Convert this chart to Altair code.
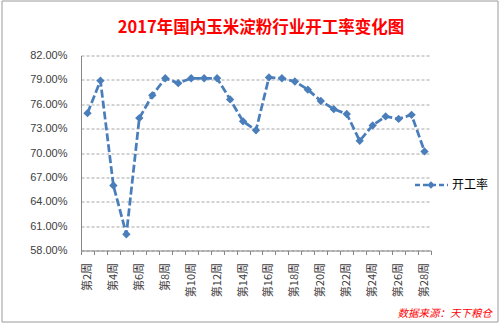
import altair as alt
import pandas as pd

weeks = list(range(2, 29))
rates = [74.9, 78.9, 66.0, 60.0, 74.3, 77.1, 79.2, 78.6, 79.2, 79.2,
         79.2, 76.6, 73.9, 72.8, 79.3, 79.2, 78.8, 77.8, 76.4, 75.4,
         74.8, 71.5, 73.4, 74.5, 74.2, 74.7, 70.2]
y_ticks = [58, 61, 64, 67, 70, 73, 76, 79, 82]
title_text = "2017年国内玉米淀粉行业开工率变化图"
series_name = "开工率"
source_text = "数据来源：天下粮仓"

df = pd.DataFrame({"week": weeks, "rate": rates})

boundaries = [w - 0.5 for w in weeks] + [weeks[-1] + 0.5]
label_vals = [w for w in weeks if w % 2 == 0]
x_values = sorted(boundaries + label_vals)

BLUE = "#4A7EBB"
W, H = 350, 195

x_enc = alt.X(
    "week:Q",
    scale=alt.Scale(domain=[weeks[0] - 0.5, weeks[-1] + 0.5], nice=False, zero=False),
    axis=alt.Axis(
        title=None, values=x_values, tickCount=len(x_values), grid=False,
        labelExpr="datum.value % 2 == 0 ? '第' + datum.value + '周' : ''",
        labelAngle=270, labelFont="Noto Sans CJK SC", labelFontSize=11,
        labelColor="#404040", labelPadding=8, labelOverlap=False, labelFlush=False,
        domainColor="#868686", tickColor="#868686", tickSize=4,
        tickOpacity={"condition": {"test": "datum.value % 1 == 0", "value": 0}, "value": 1},
    ),
)
y_enc = alt.Y(
    "rate:Q",
    scale=alt.Scale(domain=[y_ticks[0], y_ticks[-1]], nice=False, zero=False),
    axis=alt.Axis(
        title=None, values=y_ticks, tickCount=len(y_ticks),
        labelExpr="format(datum.value, '.2f') + '%'",
        labelFont="Liberation Sans", labelFontSize=11, labelColor="#404040",
        labelPadding=14, ticks=False, domainColor="#868686", labelOverlap=False,
        grid=True, gridColor="#A6A6A6", gridDash=[3, 2], gridWidth=1,
    ),
)

base = alt.Chart(df)
line = base.mark_line(color=BLUE, strokeWidth=2.75, strokeDash=[8, 3]).encode(x=x_enc, y=y_enc)
pts = base.mark_point(shape="diamond", filled=True, color=BLUE, size=70, opacity=1).encode(
    x="week:Q", y="rate:Q")

one = pd.DataFrame({"t": [series_name]})
leg_rule = alt.Chart(one).mark_rule(color=BLUE, strokeWidth=2.5, strokeDash=[5, 3]).encode(
    x=alt.value(334), x2=alt.value(367), y=alt.value(129.5))
leg_pt = alt.Chart(one).mark_point(shape="diamond", filled=True, color=BLUE, size=55, opacity=1).encode(
    x=alt.value(350), y=alt.value(129.5))
leg_txt = alt.Chart(one).mark_text(align="left", baseline="middle", font="Noto Sans CJK SC",
                                   fontSize=12, color="#000000").encode(
    x=alt.value(371), y=alt.value(129.5), text="t:N")

ttl = alt.Chart(pd.DataFrame({"t": [title_text]})).mark_text(
    align="center", baseline="middle", font="Noto Sans CJK SC", fontSize=16.5,
    fontWeight="bold", color="#FF0000").encode(x=alt.value(180), y=alt.value(-28), text="t:N")

src = alt.Chart(pd.DataFrame({"t": [source_text]})).mark_text(
    align="right", baseline="middle", font="Noto Sans CJK SC", fontSize=10.5,
    fontStyle="italic", color="#FF0000").encode(x=alt.value(411), y=alt.value(258.5), text="t:N")

frame = alt.Chart(one).mark_rect(fillOpacity=0, stroke="#9A9A9A", strokeWidth=1).encode(
    x=alt.value(-79), x2=alt.value(417), y=alt.value(-54.5), y2=alt.value(266.5))

chart = alt.layer(frame, line, pts, leg_rule, leg_pt, leg_txt, ttl, src).properties(
    width=W, height=H,
    autosize=alt.AutoSizeParams(type="none"),
    padding={"left": 81, "top": 55.5, "right": 69, "bottom": 73.5},
    background="white",
).configure_view(stroke=None)

chart.save("out.html", embed_options={"renderer": "svg", "actions": False})
